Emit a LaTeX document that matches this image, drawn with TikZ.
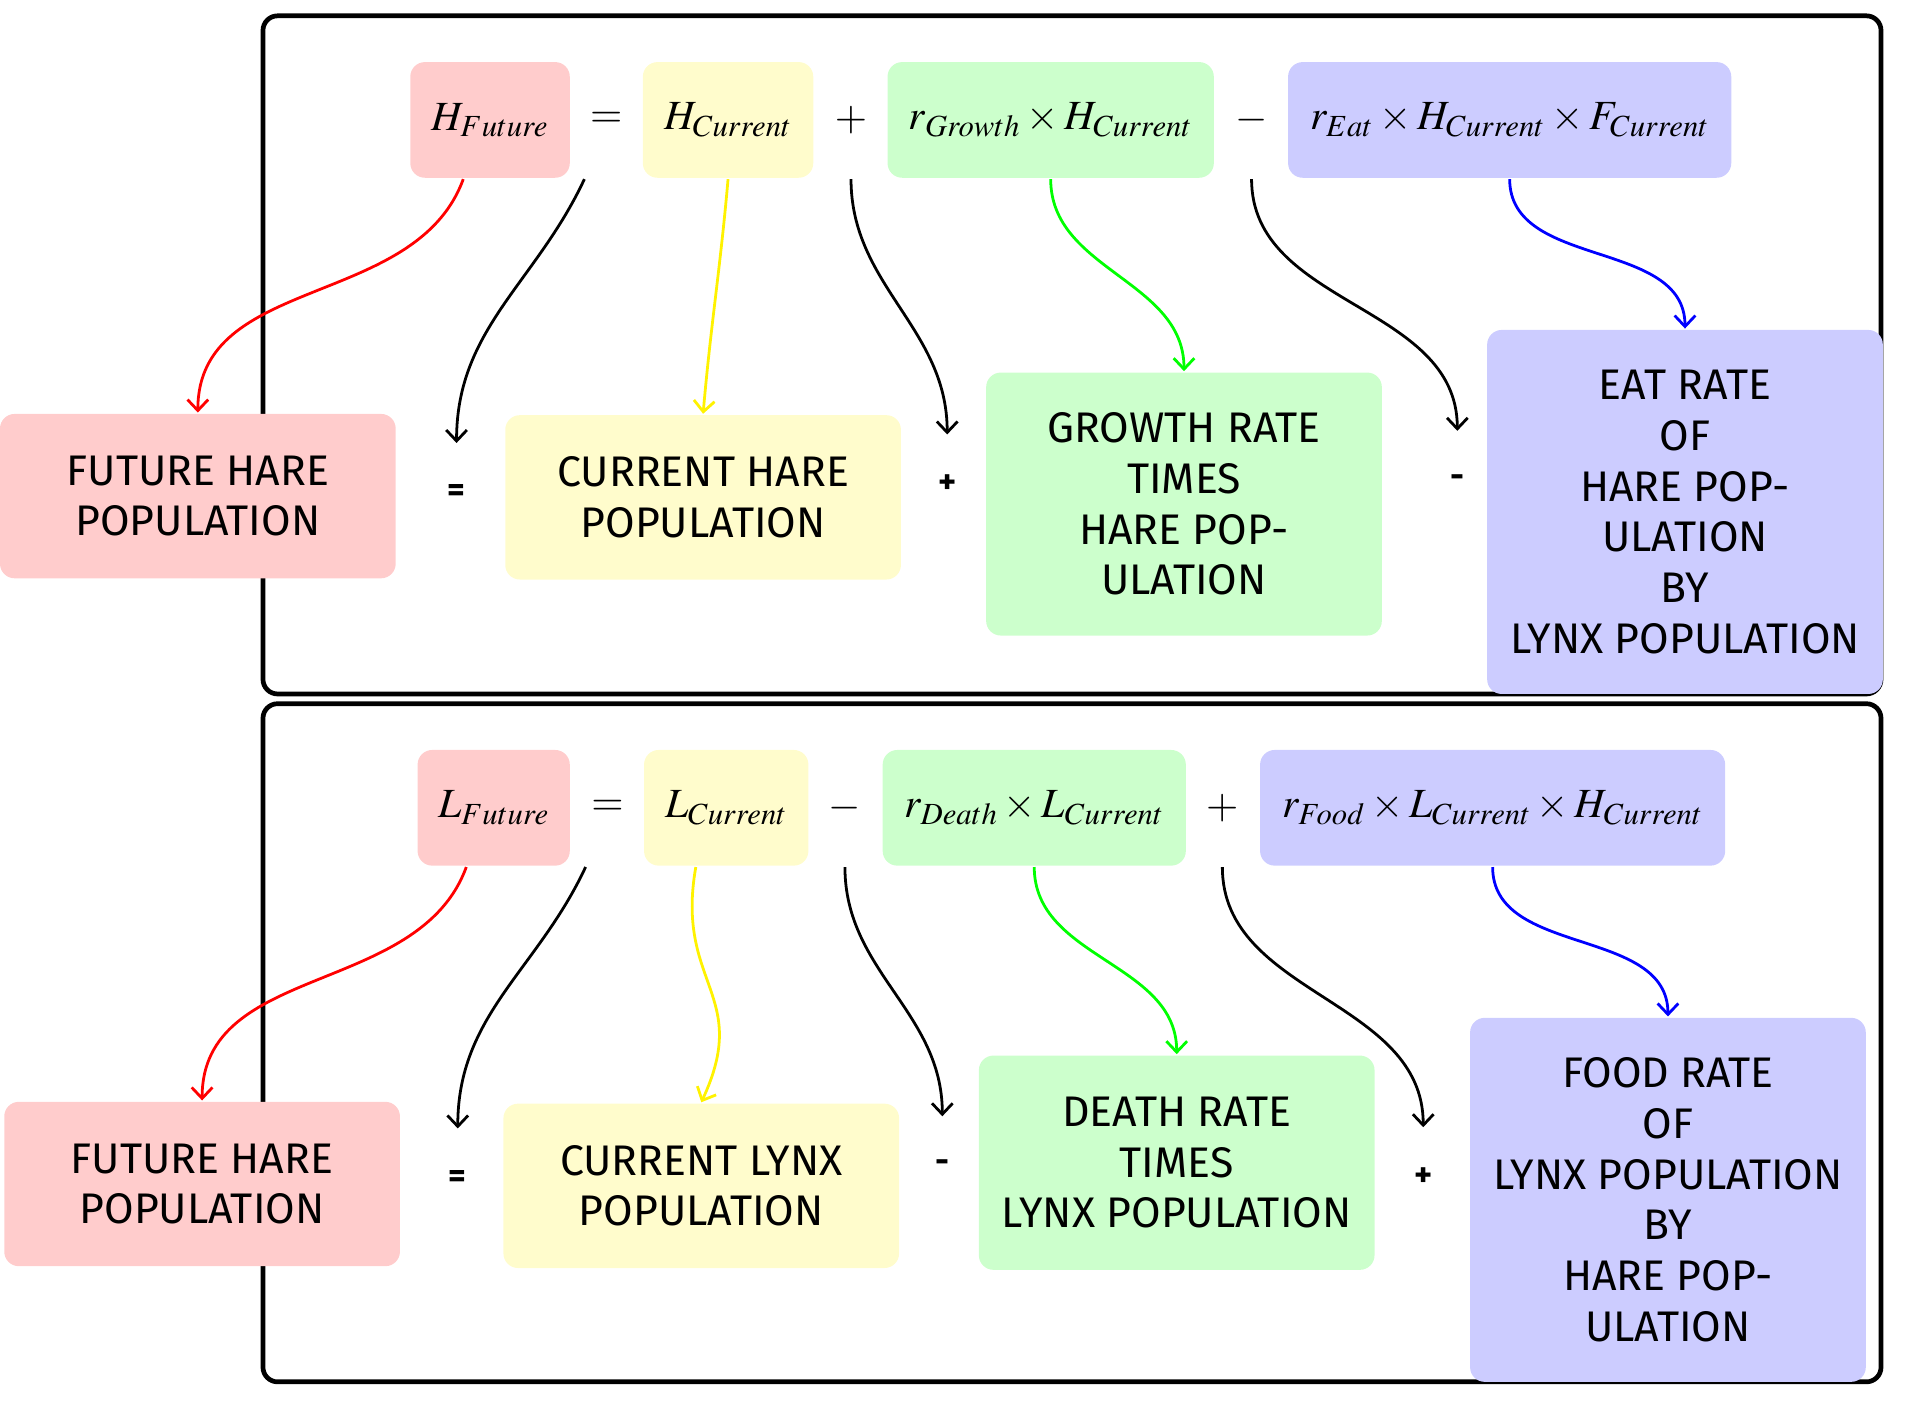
\documentclass[tikz,border=0pt]{standalone}
\usepackage{mathptmx}
\usepackage[no-math]{fontspec}
\usetikzlibrary{arrows.meta}
\newfontfamily\handfont{Fira Sans}
\tikzset{
every picture/.style={
line width=1.3pt
}}

\begin{document}
\begin{tikzpicture}[x=0.2mm, y=0.2mm,
eqbox/.style = {rectangle, rounded corners=2.4mm, minimum height=19mm, inner xsep=0pt, font=\fontsize{19.4}{22}\selectfont},
sign/.style = {minimum height=19mm, font=\fontsize{19.4}{22}\selectfont},
txtbox/.style = {rectangle, rounded corners=2.4mm, minimum width=65mm, align=center, font=\handfont\fontsize{20}{23.7}\selectfont},
small/.style = {minimum height=16mm, font=\handfont\bfseries\fontsize{16}{18}\selectfont},
frame/.style = {draw, line width=2.2pt, rounded corners=2.4mm},
link/.style = {-{Straight Barb[length=1.8mm, width=3.4mm]}}]
\useasboundingbox (0,0) rectangle (1568,-1159);
\draw[frame] (216,-13) rectangle (1545,-570);
\draw[frame] (216,-578) rectangle (1545,-1135);

% hare
\node[eqbox, fill=red!20, minimum width=26.2mm] at (402.5,-98.5) (hf) {$H_{Future}$};
\node[sign] at (498,-98.5) (hs1) {$=$};
\node[eqbox, fill=yellow!20, minimum width=28mm] at (598,-98.5) (hc) {$H_{Current}$};
\node[sign] at (699,-98.5) (hs2) {$+$};
\node[eqbox, fill=green!20, minimum width=53.6mm] at (863,-98.5) (hg) {$r_{Growth}\times H_{Current}$};
\node[sign] at (1028,-98.5) (hs3) {$-$};
\node[eqbox, fill=blue!20, minimum width=72.8mm] at (1240,-98.5) (he) {$r_{Eat}\times H_{Current}\times F_{Current}$};

\node[txtbox, fill=red!20, minimum height=27mm] at (162.5,-407.5) (hfd) {FUTURE HARE\\POPULATION};
\node[small] at (375,-405) (ht1) {=};
\node[txtbox, fill=yellow!20, minimum height=27mm] at (577.5,-408.5) (hcd) {CURRENT HARE\\POPULATION};
\node[small] at (778,-398) (ht2) {+};
\node[txtbox, fill=green!20, minimum height=43.2mm] at (972.5,-414) (hgd) {GROWTH RATE\\TIMES\\HARE POP-\\ULATION};
\node[small] at (1197,-395) (ht3) {-};
\node[txtbox, fill=blue!20, minimum height=59.8mm] at (1384,-420.5) (hed) {EAT RATE\\OF\\HARE POP-\\ULATION\\BY\\LYNX POPULATION};

\draw[link, red] ([xshift=-4.4mm]hf.south) to[out=-110, in=90] (hfd.north);
\draw[link] ([xshift=-3.6mm]hs1.south) to[out=-115, in=90] (ht1.north);
\draw[link, yellow] (hc.south) to[out=-95, in=85] (hcd.north);
\draw[link] (hs2.south) to[out=-90, in=90] (ht2.north);
\draw[link, green] (hg.south) to[out=-90, in=90] (hgd.north);
\draw[link] (hs3.south) to[out=-90, in=90] (ht3.north);
\draw[link, blue] (he.south) to[out=-90, in=90] (hed.north);

% lynx
\node[eqbox, fill=red!20, minimum width=25mm] at (405.5,-663.5) (lf) {$L_{Future}$};
\node[sign] at (499,-663.5) (ls1) {$=$};
\node[eqbox, fill=yellow!20, minimum width=27mm] at (596.5,-663.5) (lc) {$L_{Current}$};
\node[sign] at (694,-663.5) (ls2) {$-$};
\node[eqbox, fill=green!20, minimum width=49.8mm] at (849.5,-663.5) (ld) {$r_{Death}\times L_{Current}$};
\node[sign] at (1004,-663.5) (ls3) {$+$};
\node[eqbox, fill=blue!20, minimum width=76.4mm] at (1226,-663.5) (lo) {$r_{Food}\times L_{Current}\times H_{Current}$};

\node[txtbox, fill=red!20, minimum height=27mm] at (166,-972.5) (lfd) {FUTURE HARE\\POPULATION};
\node[small] at (376,-968) (lt1) {=};
\node[txtbox, fill=yellow!20, minimum height=27mm] at (576,-974) (lcd) {CURRENT LYNX\\POPULATION};
\node[small] at (774,-958) (lt2) {-};
\node[txtbox, fill=green!20, minimum height=35.2mm] at (966.5,-955) (ldd) {DEATH RATE\\TIMES\\LYNX POPULATION};
\node[small] at (1169,-967) (lt3) {+};
\node[txtbox, fill=blue!20, minimum height=59.8mm] at (1370,-985.5) (lod) {FOOD RATE\\OF\\LYNX POPULATION\\BY\\HARE POP-\\ULATION};

\draw[link, red] ([xshift=-4.5mm]lf.south) to[out=-110, in=90] (lfd.north);
\draw[link] ([xshift=-3.6mm]ls1.south) to[out=-115, in=90] (lt1.north);
\draw[link, yellow] ([xshift=-5mm]lc.south) to[out=-100, in=65, looseness=1.3] (lcd.north);
\draw[link] (ls2.south) to[out=-90, in=90] (lt2.north);
\draw[link, green] (ld.south) to[out=-90, in=90] (ldd.north);
\draw[link] (ls3.south) to[out=-90, in=90] (lt3.north);
\draw[link, blue] (lo.south) to[out=-90, in=90] (lod.north);

\end{tikzpicture}
\end{document}
